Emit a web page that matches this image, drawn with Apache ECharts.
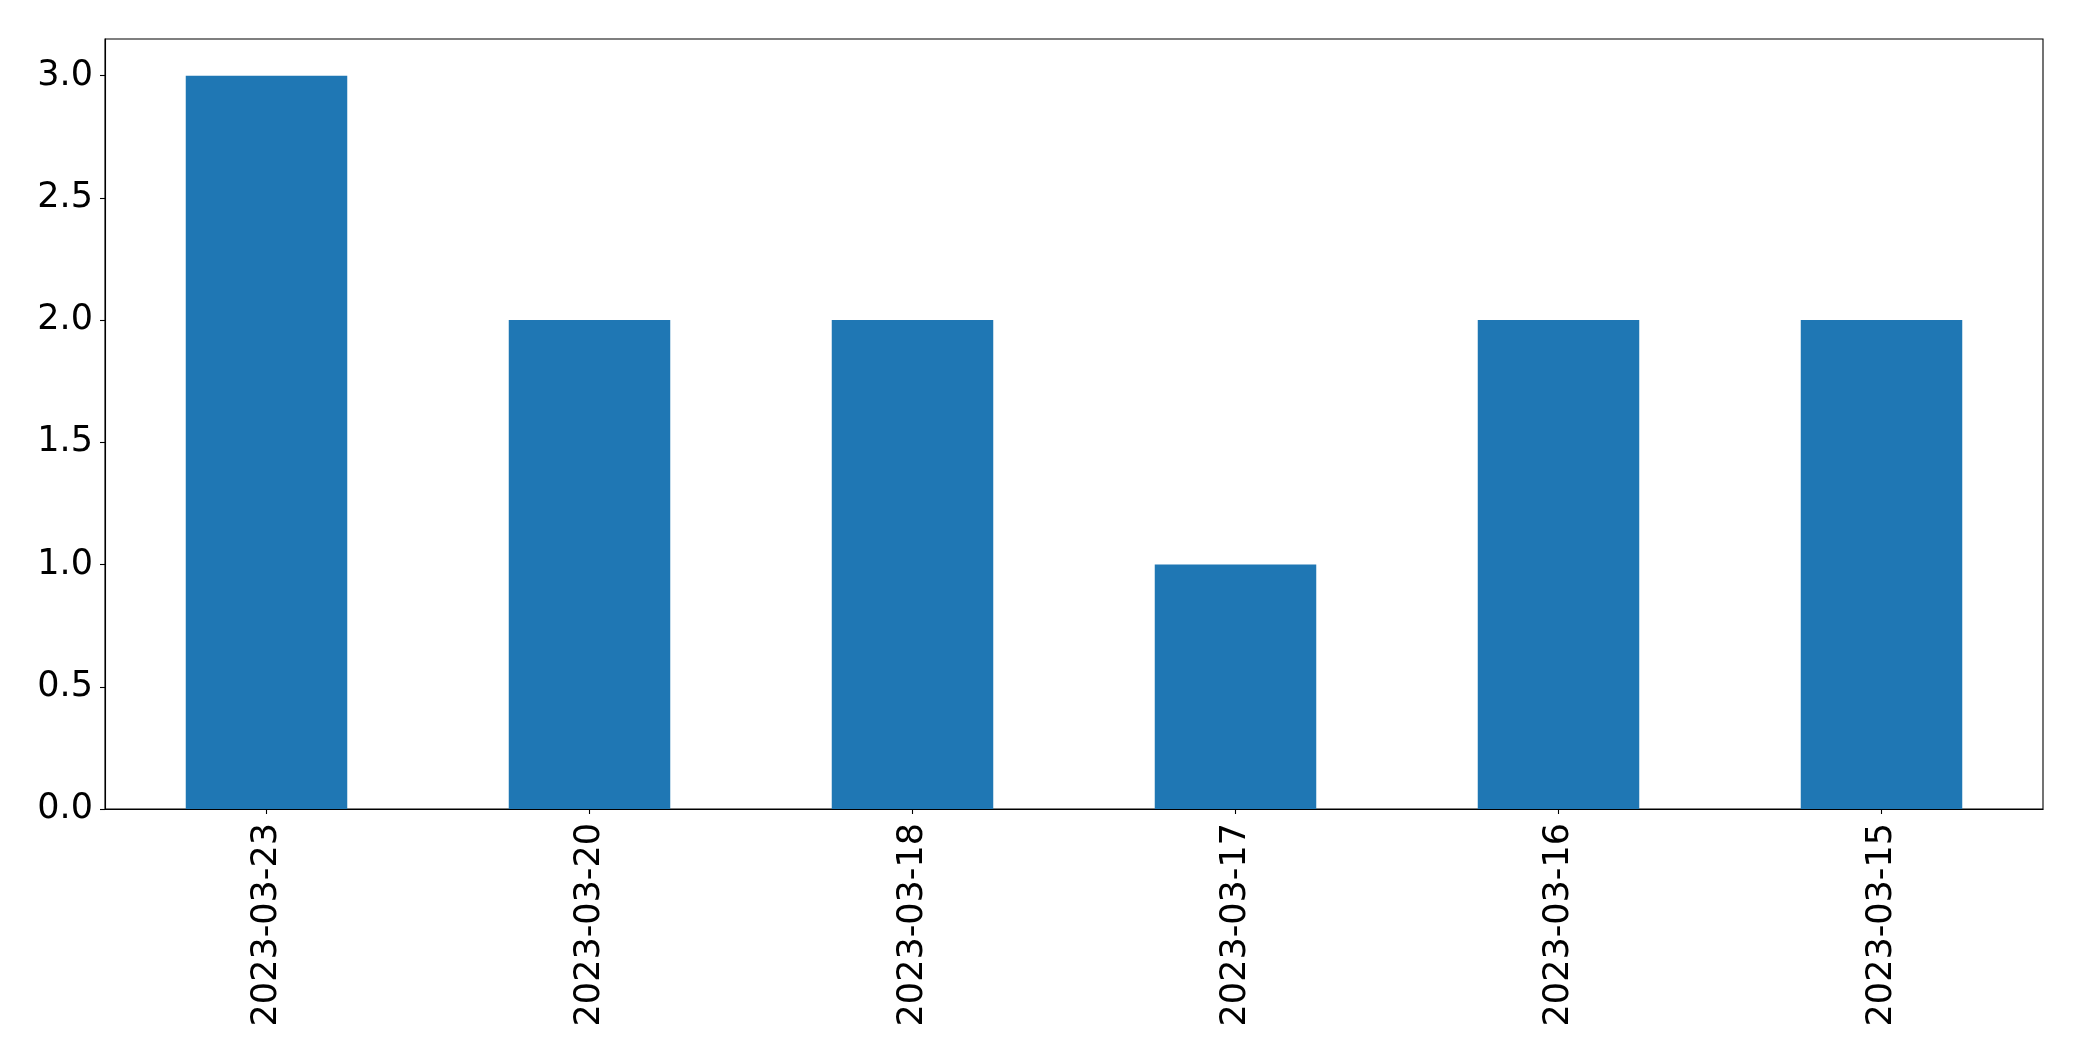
<!DOCTYPE html>
<html>
<head>
<meta charset="utf-8">
<script src="https://cdn.jsdelivr.net/npm/echarts@6/dist/echarts.min.js"></script>
<style>
html,body{margin:0;padding:0;background:#fff;}
#c{width:2082px;height:1061px;}
</style>
</head>
<body>
<div id="c"></div>
<script>
const categories = ['2023-03-23','2023-03-20','2023-03-18','2023-03-17','2023-03-16','2023-03-15'];
const values = [3, 2, 2, 1, 2, 2];
const yTicks = [0, 0.5, 1.0, 1.5, 2.0, 2.5, 3.0];

const chart = echarts.init(document.getElementById('c'), null, {renderer: 'canvas'});
const font = 'DejaVu Sans';
chart.setOption({
  animation: false,
  backgroundColor: '#ffffff',
  grid: {left: 105, top: 39, right: 39, bottom: 252, show: true, borderColor: '#000', borderWidth: 1.1, containLabel: false},
  xAxis: {
    type: 'category',
    data: categories,
    boundaryGap: true,
    axisLine: {show: true, lineStyle: {color: '#000', width: 1.1}},
    axisTick: {show: true, alignWithLabel: true, length: 5, lineStyle: {color: '#000', width: 1.1}},
    axisLabel: {rotate: 90, margin: 14, color: '#000', fontFamily: font, fontSize: 35, interval: 0},
    splitLine: {show: false}
  },
  yAxis: {
    type: 'value',
    min: 0,
    max: 3.15,
    interval: 0.5,
    axisLine: {show: true, lineStyle: {color: '#000', width: 1.1}},
    axisTick: {show: true, length: 5, customValues: yTicks, lineStyle: {color: '#000', width: 1.1}},
    axisLabel: {customValues: yTicks, margin: 12, color: '#000', fontFamily: font, fontSize: 35,
      padding: [10, 0, 0, 0],
      formatter: v => v.toFixed(1)},
    splitLine: {show: false}
  },
  series: [{
    type: 'bar',
    data: values,
    barWidth: '50%',
    itemStyle: {color: '#1f77b4'}
  }]
});
</script>
</body>
</html>
